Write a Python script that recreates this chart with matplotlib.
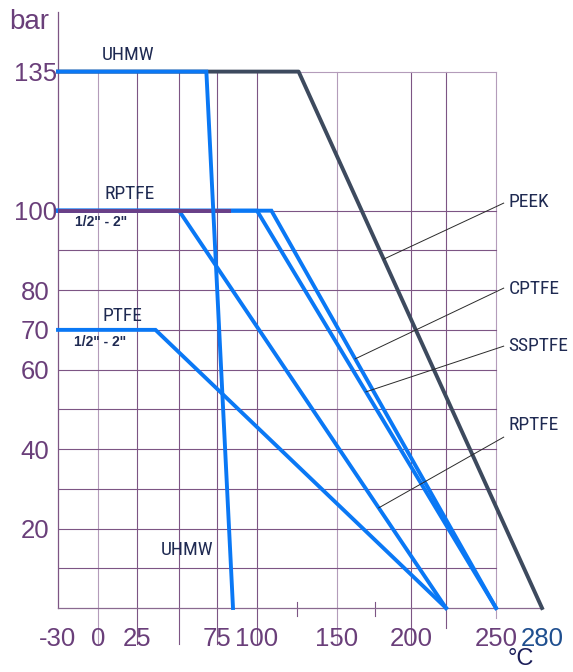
import numpy as np
import matplotlib
matplotlib.use("Agg")
import matplotlib.pyplot as plt
import matplotlib.font_manager as fm

# ---------------- data ----------------
# x-axis scale definition (temperature -> relative position along the printed axis)
scale_temp = [-30, 0, 25, 50, 75, 100, 125, 150, 175, 200, 225, 250, 280]
scale_pos = [0, 40, 79, 121, 159, 199, 239, 279, 317, 353, 388, 438, 484]

x_tick_values = [-30, 0, 25, 75, 100, 150, 200, 250, 280]
x_tick_labels = ["-30", "0", "25", "75", "100", "150", "200", "250", "280"]
y_tick_values = [20, 40, 60, 70, 80, 100, 135]
y_tick_labels = ["20", "40", "60", "70", "80", "100", "135"]

# pressure-temperature curves (°C, bar)
peek_t = [-30, 126, 280]
peek_p = [135, 135, 0]
uhmw_t = [-30, 68, 85]
uhmw_p = [135, 135, 0]
cptfe_t = [-30, 109, 250]
cptfe_p = [100, 100, 0]
ssptfe_t = [-30, 100, 250]
ssptfe_p = [100, 100, 0]
rptfe_t = [-30, 50, 225]
rptfe_p = [100, 100, 0]
ptfe_t = [-30, 36, 225]
ptfe_p = [70, 70, 0]
rptfe_small_t = [-30, 84]   # RPTFE 1/2" - 2" rating
rptfe_small_p = [100, 100]

grid_v = [0, 25, 50, 75, 100, 150, 200, 225, 250]
grid_h = [10, 20, 30, 40, 50, 60, 70, 80, 90, 100, 135]
minor_ticks = [125, 175]

# ---------------- style ----------------
fonts = fm.fontManager.ttflist
names = {f.name for f in fonts}
num_font = ["Liberation Sans", "DejaVu Sans"]
lab_kw = None
if "Liberation Sans Narrow" in names:
    lab_kw = dict(family=["Liberation Sans Narrow", "DejaVu Sans"], fontsize=14.5)
elif "Roboto Condensed" in names:
    lab_kw = dict(family=["Roboto Condensed", "DejaVu Sans"], fontsize=14)
elif any(f.name == "DejaVu Sans" and f.stretch == "condensed" for f in fonts):
    lab_kw = dict(family=["DejaVu Sans"], fontstretch="condensed", fontsize=12.5)
else:
    lab_kw = dict(family=["Liberation Sans", "DejaVu Sans"], fontsize=11.5)

BLUE = "#0a78f5"
DARK = "#3d4a5e"
PURPLE_LINE = "#6b3f86"
GRID = "#7d5584"
GRID_LIGHT = "#b49cba"
TXT_PURPLE = "#6a3f7a"
NAVY = "#1f2a52"


def fwd(x):
    return np.interp(x, scale_temp, scale_pos)


def inv(p):
    return np.interp(p, scale_pos, scale_temp)


fig = plt.figure(figsize=(5.73, 6.72), dpi=100)
ax = fig.add_axes([58 / 573, 64 / 672, 484 / 573, 596 / 672])
ax.set_xscale("function", functions=(fwd, inv))
ax.set_xlim(-30, 280)
ax.set_ylim(0, 150)

for s in ["top", "right"]:
    ax.spines[s].set_visible(False)
ax.spines["left"].set_color(GRID)
ax.spines["left"].set_linewidth(0.9)
ax.spines["bottom"].set_color("#8a6a90")
ax.spines["bottom"].set_linewidth(0.9)

# grid
for v in grid_v:
    light = v in (0, 150, 250)
    low = -9 if v <= 200 else (-5 if v == 225 else -2.5)
    ax.plot([v, v], [low, 135], color=GRID_LIGHT if light else GRID,
            lw=0.8, zorder=1, clip_on=False)
for h in grid_h:
    ax.plot([-30, 250], [h, h], color=GRID_LIGHT if h == 135 else GRID,
            lw=0.8, zorder=1)
for m in minor_ticks:
    ax.plot([m, m], [-2, 1.5], color=GRID, lw=0.8, zorder=1, clip_on=False)

# curves
lw = 2.8
ax.plot(peek_t, peek_p, color=DARK, lw=lw, zorder=3, clip_on=False)
for t, p in [(cptfe_t, cptfe_p), (ssptfe_t, ssptfe_p), (rptfe_t, rptfe_p),
             (ptfe_t, ptfe_p)]:
    ax.plot(t, p, color=BLUE, lw=lw, zorder=4, clip_on=False,
            solid_joinstyle="miter")
ax.plot(rptfe_small_t, rptfe_small_p, color=PURPLE_LINE, lw=lw, zorder=5,
        solid_capstyle="butt")
ax.plot(uhmw_t, uhmw_p, color=BLUE, lw=lw, zorder=6, clip_on=False,
        solid_joinstyle="miter")

# ticks
ax.set_xticks(x_tick_values, x_tick_labels)
ax.set_yticks(y_tick_values, y_tick_labels)
ax.tick_params(axis="x", length=0, pad=13.5, labelsize=18.5)
ax.tick_params(axis="y", length=0, pad=16.5, labelsize=18.5)
for lab in ax.get_xticklabels():
    lab.set_fontfamily(num_font)
    lab.set_color("#1f4f8f" if lab.get_text() == "280" else TXT_PURPLE)
for lab in ax.get_yticklabels():
    lab.set_fontfamily(num_font)
    lab.set_color(TXT_PURPLE)
    lab.set_horizontalalignment("center")

# axis unit labels
fig.text(29 / 573, 1 - 22 / 672, "bar", ha="center", va="center",
         fontsize=20, color=TXT_PURPLE, family=num_font)
fig.text(521 / 573, 1 - 659 / 672, "°C", ha="center", va="center",
         fontsize=17, color="#1c1f5a", family=num_font)


# curve labels on the left
def lab(x, y, s, **kw):
    ax.text(x, y, s, ha="center", va="center", color=NAVY, zorder=7, **kw)


lab(19, 139.2, "UHMW", **lab_kw)
lab(20.5, 104.2, "RPTFE", **lab_kw)
lab(2, 97.1, '1/2" - 2"', fontsize=10, family=num_font, fontweight="bold")
lab(15.5, 73.5, "PTFE", **lab_kw)
lab(1.5, 66.9, '1/2" - 2"', fontsize=10, family=num_font, fontweight="bold")
lab(55, 14.6, "UHMW", **lab_kw)


# callouts on the right
def target_on(t, p, bar):
    pos = fwd(np.array(t, float))
    pp = np.array(p, float)
    return inv(np.interp(bar, pp[::-1], pos[::-1]))


callouts = [
    ("PEEK", peek_t, peek_p, 87.8, 101.9, 102.2),
    ("CPTFE", cptfe_t, cptfe_p, 62.7, 80.5, 80.3),
    ("SSPTFE", ssptfe_t, ssptfe_p, 54.4, 65.9, 65.9),
    ("RPTFE", rptfe_t, rptfe_p, 25.2, 43.0, 46.1),
]
for name, t, p, bar, y0, ytxt in callouts:
    tx = target_on(t, p, bar)
    ax.plot([255, tx], [y0, bar], color="#2a2a2a", lw=0.7, zorder=8)
    ax.text(258, ytxt, name, ha="left", va="center", color=NAVY,
            zorder=8, clip_on=False, **lab_kw)

fig.savefig("out.png", dpi=100)
